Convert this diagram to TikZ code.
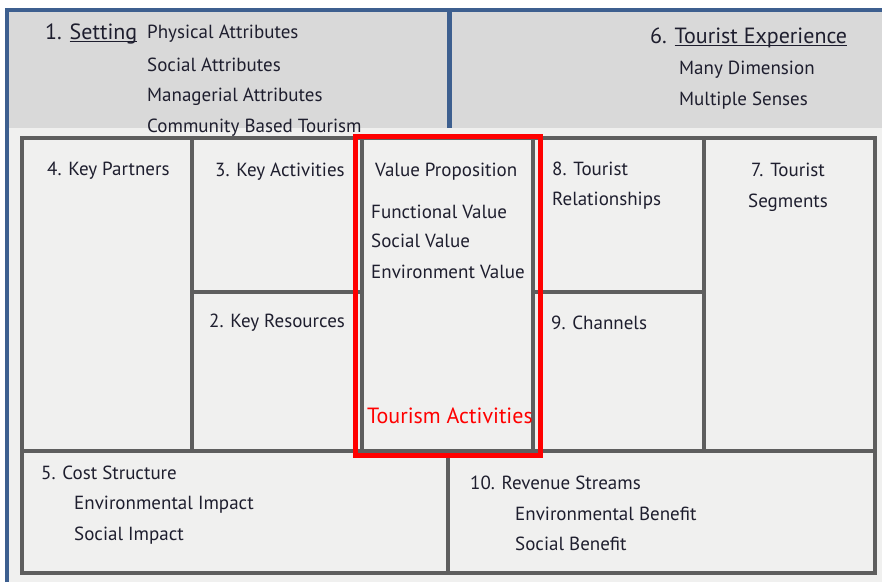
\documentclass[tikz,border=0pt]{standalone}
\usepackage{fontspec}
\setmainfont{PT Sans}
\definecolor{topgray}{HTML}{D9D9D9}
\definecolor{canvasbg}{HTML}{F0F0EF}
\definecolor{gridgray}{HTML}{5E5E5E}
\definecolor{frameblue}{HTML}{3D5F8F}
\definecolor{txt}{HTML}{1E1E2E}
\definecolor{hired}{HTML}{FF0000}
\newcommand\myul[1]{\setbox0\hbox{#1}\rlap{\rule[-2.6pt]{\wd0}{1pt}}\box0}
\begin{document}
\begin{tikzpicture}[x=1pt,y=-1pt,
  body/.style={anchor=base west,inner sep=0pt,text=txt,font=\fontsize{19}{22}\selectfont},
  bodyc/.style={body,anchor=base},
  head/.style={body,font=\fontsize{22}{25}\selectfont},
  gridline/.style={draw=gridgray,line width=3.5pt},
  ]
\useasboundingbox (0,0) rectangle (882,582);
\fill[white] (0,0) rectangle (882,582);
\fill[topgray] (7,10) rectangle (882,128);
\fill[canvasbg] (7,128) rectangle (882,582);
\draw[frameblue,line width=4pt] (7,582) -- (7,10) -- (882,10);
\draw[frameblue,line width=5pt] (449,10) -- (449,128);
% canvas grid
\draw[gridline] (22,138) rectangle (875,573);
\draw[gridline] (192,138) -- (192,451);
\draw[gridline] (362,138) -- (362,451);
\draw[gridline] (533,138) -- (533,451);
\draw[gridline] (704,138) -- (704,451);
\draw[gridline] (192,292) -- (362,292);
\draw[gridline] (533,292) -- (704,292);
\draw[gridline] (22,451) -- (875,451);
\draw[gridline] (448,451) -- (448,573);
% texts top
\node[head] (set) at (45,39) {1. \myul{Setting}};
\node[body] (pa) at (147,38) {Physical Attributes};
\node[body] (sa) at (147,71) {Social Attributes};
\node[body] (ma) at (147,101) {Managerial Attributes};
\node[body] (cb) at (147,132) {Community Based Tourism};
\node[head] (te) at (650,43) {6. \myul{Tourist Experience}};
\node[body] (md) at (679,74) {Many Dimension};
\node[body] (ms) at (679,105) {Multiple Senses};
% canvas texts
\node[body] (kp) at (47,175) {4. Key Partners};
\node[body] (ka) at (215,176) {3. Key Activities};
\node[body] (vp) at (375,176) {Value Proposition};
\node[body] (fv) at (371,218) {Functional Value};
\node[body] (sv) at (371,247) {Social Value};
\node[body] (ev) at (371,278) {Environment Value};
\node[body] (tr1) at (552,175) {8. Tourist};
\node[body] (tr2) at (552,205) {Relationships};
\node[bodyc] (ts1) at (788,176) {7. Tourist};
\node[bodyc] (ts2) at (788,207) {Segments};
\node[body] (kr) at (209,327) {2. Key Resources};
\node[body] (ch) at (551,329) {9. Channels};
\node[body,text=hired,font=\fontsize{22}{25}\selectfont] (ta) at (367,423) {Tourism Activities};
\node[body] (cs) at (41,479) {5. Cost Structure};
\node[body] (ei) at (74,509) {Environmental Impact};
\node[body] (si) at (74,540) {Social Impact};
\node[body] (rs) at (470,489) {10. Revenue Streams};
\node[body] (eb) at (515,520) {Environmental Benefit};
\node[body] (sb) at (515,550) {Social Benefit};
% highlight
\draw[hired,line width=5pt] (355,136) rectangle (540,455);
\end{tikzpicture}
\end{document}
